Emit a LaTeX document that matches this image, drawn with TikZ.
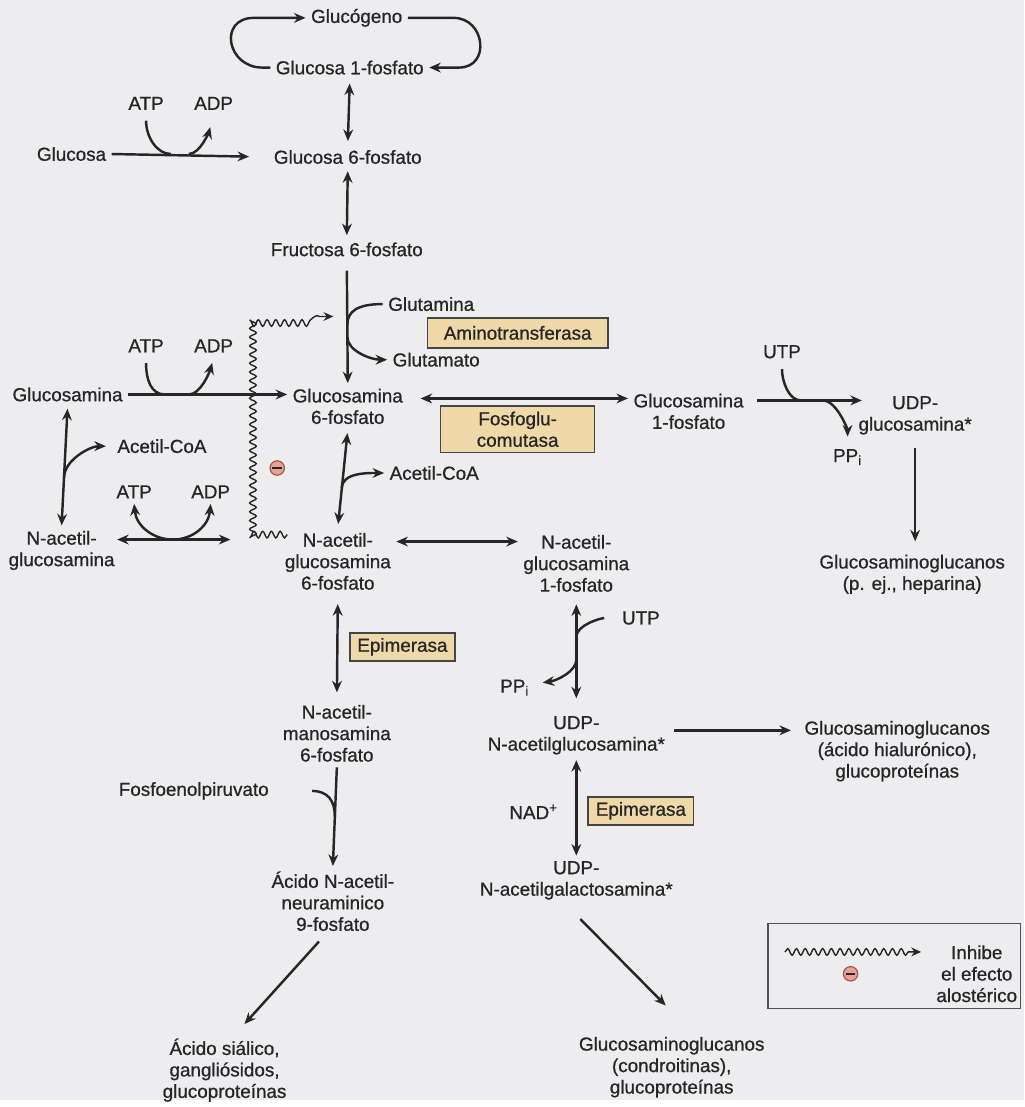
\documentclass[tikz,border=0pt]{standalone}
\usepackage{fontspec}
\setmainfont{Liberation Sans}[FakeBold=0.8]
\usetikzlibrary{calc,arrows.meta,decorations.pathmorphing}
\definecolor{ink}{HTML}{262626}
\definecolor{paper}{HTML}{EDEDEF}
\definecolor{enzfill}{HTML}{F0D9A8}
\definecolor{enzline}{HTML}{454545}
\definecolor{negfill}{HTML}{E8A294}
\definecolor{negline}{HTML}{A5584C}
\tikzset{
  >={Stealth[length=6.6pt,width=5.6pt]},
  met/.style={text=ink, font=\fontsize{10.8}{12.3}\selectfont, align=center, inner sep=3pt},
  enz/.style={draw=enzline, fill=enzfill, line width=0.9pt, text=ink,
    font=\fontsize{10.8}{12.3}\selectfont, align=center, inner sep=0pt},
  rxn/.style={draw=ink, line width=1.4pt, ->},
  rev/.style={draw=ink, line width=1.4pt, <->},
  side/.style={draw=ink, line width=1.4pt},
  inhib/.style={draw=ink, line width=0.8pt, -{Stealth[length=5.6pt,width=5pt]}},
  wave/.style={decoration={snake, amplitude=1.9pt, segment length=5pt}},
  neg/.style={circle, draw=negline, fill=negfill, line width=0.7pt, minimum size=0.29cm, inner sep=0pt},
  negbar/.style={draw=ink, line width=0.9pt},
}

\begin{document}
\begin{tikzpicture}[x=0.02cm, y=-0.02cm]
  \fill[paper] (0,0) rectangle (1031,1107);

  % glycogen cycle and glucose
  \node[met] (glycogen) at (359,18) {Glucógeno};
  \node[met] (g1p) at (352,68) {Glucosa 1-fosfato};
  \node[met] (g6p) at (350,158) {Glucosa 6-fosfato};
  \node[met] (f6p) at (349,251) {Fructosa 6-fosfato};
  \node[met] (glc) at (72,155) {Glucosa};
  \node[met] (atpA) at (147,104) {ATP};
  \node[met] (adpA) at (215,104) {ADP};

  \draw[rxn] (g1p.west) -- ++(-8,0) .. controls +(-36,0) and +(-36,0) .. ($(glycogen.west)+(-52,0)$) -- (glycogen.west);
  \draw[rxn] (glycogen.east) -- ++(46,0) .. controls +(32,0) and +(32,0) .. ($(g1p.east)+(30,0)$) -- (g1p.east);
  \draw[rev, shorten <=2pt, shorten >=2pt] (g1p.south) -- (g6p.north);
  \draw[rev, shorten <=1pt, shorten >=1pt] (g6p.south) -- (f6p.north);

  \draw[rxn, shorten >=11pt] (glc.east) -- (g6p.west);
  \coordinate (tA) at (172,155);
  \coordinate (dA) at (190,155);
  \draw[side, shorten <=3pt] (atpA.south) .. controls +(0,22) and +(-14,0) .. (tA);
  \draw[rxn, shorten >=7pt] (dA) .. controls +(12,0) and +(-4,14) .. (adpA.south);

  % amination
  \node[met] (gln) at (434,306) {Glutamina};
  \node[met] (glu) at (439,362) {Glutamato};
  \node[enz, minimum width=3.64cm, minimum height=0.6cm] (amt) at (521,335) {Aminotransferasa};
  \node[met] (glcn6p) at (350,409) {Glucosamina\\6-fosfato};
  \draw[rxn, shorten <=5pt] (f6p.south) -- (glcn6p.north);
  \coordinate (gA) at ($(f6p.south)!0.52!(glcn6p.north)$);
  \coordinate (gB) at ($(f6p.south)!0.62!(glcn6p.north)$);
  \draw[side] (gln.west) .. controls +(-25,0) and +(0,-14) .. (gA);
  \draw[rxn] (gB) .. controls +(0,14) and +(-16,0) .. (glu.west);

  % glucosamine
  \node[met] (glcn) at (68,397) {Glucosamina};
  \node[met] (atpB) at (147,348) {ATP};
  \node[met] (adpB) at (215,348) {ADP};
  \draw[rxn] (glcn.east) -- (glcn.east -| glcn6p.west);
  \coordinate (tB) at (166,397);
  \coordinate (dB) at (190,397);
  \draw[side, shorten <=3pt] (atpB.south) .. controls +(0,22) and +(-14,0) .. (tB);
  \draw[rxn, shorten >=3pt] (dB) .. controls +(12,0) and +(-4,14) .. (adpB.south);

  \node[met] (glcn1p) at (693,414) {Glucosamina\\1-fosfato};
  \node[enz, minimum width=3.1cm, minimum height=0.94cm] (pgm) at (521,432) {Fosfoglu-\\comutasa};
  \coordinate (r0) at ($(glcn6p.east)+(0,-8)$);
  \draw[rev, shorten <=7pt] (r0) -- (r0 -| glcn1p.west);

  \node[met] (utpA) at (787,354) {UTP};
  \node[met] (ppiA) at (853,460) {PP\textsubscript{i}};
  \node[met] (udpgn) at (921,418) {UDP-\\glucosamina*};
  \node[met] (gagA) at (918,578) {Glucosaminoglucanos\\(p. ej., heparina)};
  \coordinate (r1) at ($(glcn1p.east)+(8,-11)$);
  \coordinate (u1) at ($(udpgn.west)+(9,0)$);
  \draw[rxn] (r1) -- (r1 -| u1);
  \coordinate (tC) at (806,403);
  \coordinate (dC) at (828,403);
  \draw[side, shorten <=3pt] (utpA.south) .. controls +(0,18) and +(-12,0) .. (tC);
  \draw[rxn, shorten >=4pt] (dC) .. controls +(14,0) and +(0,-14) .. (ppiA.north);
  \draw[rxn, shorten <=4.5pt, shorten >=4.5pt] (udpgn.south) -- (udpgn.south |- gagA.north);

  % acetylation
  \node[met] (acoaA) at (163,449) {Acetil-CoA};
  \node[met] (glcnac) at (62,554) {N-acetil-\\glucosamina};
  \node[met] (atpC) at (135,495) {ATP};
  \node[met] (adpC) at (212,495) {ADP};
  \draw[rev, shorten <=1pt] (glcn.south) -- (glcnac.north);
  \coordinate (cA) at ($(glcn.south)!0.6!(glcnac.north)$);
  \draw[rxn] (cA) .. controls +(0,-18) and +(-16,0) .. ($(acoaA.west)+(-6,0)$);

  \node[met] (glcnac6p) at (340,565) {N-acetil-\\glucosamina\\6-fosfato};
  \coordinate (r2) at ($(glcnac.east)+(-3,-11)$);
  \draw[rev, shorten >=28pt] (r2) -- (r2 -| glcnac6p.west);
  \coordinate (bC) at (174,543);
  \draw[side, <->] (atpC.south) .. controls +(2,22) and +(-20,0) .. (bC) .. controls +(20,0) and +(-2,22) .. (adpC.south);

  \node[met] (acoaB) at (437,476) {Acetil-CoA};
  \draw[rev, shorten <=2pt, shorten >=2pt] (glcn6p.south) -- (glcnac6p.north);
  \coordinate (cB) at ($(glcn6p.south)!0.6!(glcnac6p.north)$);
  \draw[rxn] (cB) .. controls +(0,-16) and +(-16,0) .. (acoaB.west);

  % allosteric inhibition
  \node[neg] (negA) at (279,471) {};
  \draw[negbar] ($(negA.west)+(3,0)$) -- ($(negA.east)+(-3,0)$);
  \coordinate (w0) at ($(glcnac6p.west)+(8,-27)$);
  \coordinate (wT) at ($(f6p.south)!0.45!(glcn6p.north)+(-14,0)$);
  \coordinate (wP) at ($(wT)+(-12,0)$);
  \draw[inhib] (w0) decorate[wave]{-- ++(-35,0) |- (wP)} -- (wT);

  % N-acetylglucosamine 1-phosphate branch
  \node[met] (glcnac1p) at (580,567) {N-acetil-\\glucosamina\\1-fosfato};
  \coordinate (r4) at ($(glcnac6p.east)+(0,-20)$);
  \draw[rev] (r4) -- (r4 -| glcnac1p.west);

  \node[met] (utpB) at (645,622) {UTP};
  \node[met] (ppiB) at (518,692) {PP\textsubscript{i}};
  \node[met] (udpglcnac) at (580,740) {UDP-\\N-acetilglucosamina*};
  \draw[rev, shorten <=4pt, shorten >=7pt] (glcnac1p.south) -- (udpglcnac.north);
  \coordinate (cD) at ($(glcnac1p.south)!0.35!(udpglcnac.north)$);
  \coordinate (cE) at ($(glcnac1p.south)!0.55!(udpglcnac.north)$);
  \draw[side, shorten <=7pt] (utpB.west) .. controls +(-16,0) and +(0,-12) .. (cD);
  \draw[rxn] (cE) .. controls +(0,12) and +(14,-2) .. ($(ppiB.east)+(8,-5)$);

  \node[met] (gagB) at (903,756) {Glucosaminoglucanos\\(ácido hialurónico),\\glucoproteínas};
  \draw[rxn] ($(udpglcnac.east)+(4,-5)$) -- ($(gagB.west)+(-8,-21)$);

  \node[met] (nad) at (537,817) {NAD\textsuperscript{+}};
  \node[enz, minimum width=2.12cm, minimum height=0.56cm] (epiB) at (645,816) {Epimerasa};
  \node[met] (udpgalnac) at (580,886) {UDP-\\N-acetilgalactosamina*};
  \draw[rev] (udpglcnac.south) -- (udpgalnac.north);
  \node[met] (gagC) at (676,1074) {Glucosaminoglucanos\\(condroitinas),\\glucoproteínas};
  \draw[rxn] ($(udpgalnac.south)+(4,14)$) -- ($(gagC.north)+(-6,-26)$);

  % sialic acid branch
  \node[enz, minimum width=2.12cm, minimum height=0.56cm] (epiA) at (405,651) {Epimerasa};
  \node[met] (mannac6p) at (339,738) {N-acetil-\\manosamina\\6-fosfato};
  \draw[rev, shorten <=5pt, shorten >=4pt] (glcnac6p.south) -- (mannac6p.north);
  \node[met] (pep) at (195,796) {Fosfoenolpiruvato};
  \node[met] (neu) at (335,907) {Ácido N-acetil-\\neuraminico\\9-fosfato};
  \draw[rxn] (mannac6p.south) -- (neu.north);
  \coordinate (cC) at ($(mannac6p.south)!0.5!(neu.north)$);
  \draw[side] ($(pep.east)+(38,0)$) .. controls +(16,0) and +(0,-16) .. (cC);
  \node[met] (sial) at (226,1077) {Ácido siálico,\\gangliósidos,\\glucoproteínas};
  \draw[rxn] ($(neu.south)+(-14,5)$) -- ($(sial.north)+(20,-9)$);

  % legend
  \draw[draw=ink!80, line width=0.7pt] (773,929) rectangle (1027,1015);
  \coordinate (lw0) at (790,958);
  \coordinate (lw1) at (927,958);
  \draw[inhib] (lw0) decorate[wave]{-- ($(lw1)+(-12,0)$)} -- (lw1);
  \node[neg] (negB) at (856,980) {};
  \draw[negbar] ($(negB.west)+(3,0)$) -- ($(negB.east)+(-3,0)$);
  \node[met] (legtext) at (983,980) {Inhibe\\el efecto\\alostérico};
\end{tikzpicture}
\end{document}
